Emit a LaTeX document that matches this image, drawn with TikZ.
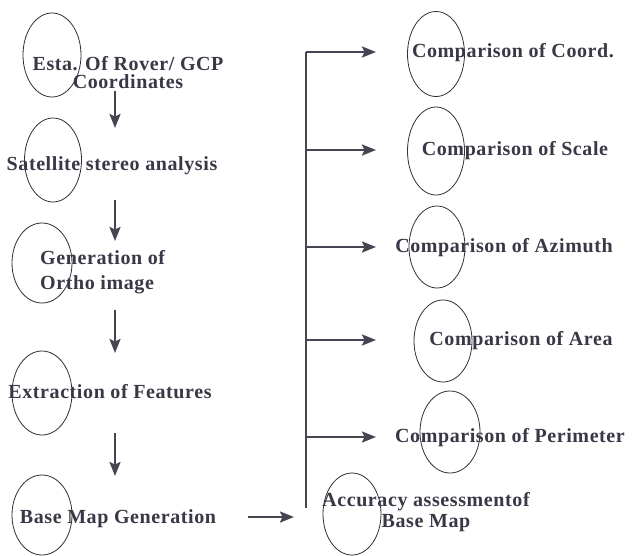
\documentclass[tikz,border=0pt]{standalone}
\usepackage{fontspec}
\setmainfont{Liberation Serif}[LetterSpace=3]
\usetikzlibrary{arrows.meta,shapes.geometric}
\definecolor{txt}{HTML}{383846}
\definecolor{arr}{HTML}{464652}
\definecolor{ell}{HTML}{303038}
\begin{document}
\begin{tikzpicture}[x=1pt,y=-1pt,
  lbl/.style={inner sep=0pt,text=txt,font=\fontsize{20}{18}\selectfont\bfseries},
  oval/.style={draw=ell,line width=0.8pt,ellipse,inner sep=0pt,minimum width=#1},
  arrowline/.style={draw=arr,line width=2.2pt,-{Stealth[length=14pt,width=11pt,inset=2.5pt]}},
  plainline/.style={draw=arr,line width=2.2pt}]
\useasboundingbox[fill=white] (0,0) rectangle (634,555);
% ellipses
\node[oval=58pt,minimum height=84pt] (e1) at (52,55) {};
\node[oval=57pt,minimum height=84pt] (e2) at (53,160) {};
\node[oval=60pt,minimum height=80pt] (e3) at (42,263) {};
\node[oval=60pt,minimum height=84pt] (e4) at (42,393) {};
\node[oval=60pt,minimum height=80pt] (e5) at (42,515) {};
\node[oval=57pt,minimum height=85pt] (r1) at (436,54) {};
\node[oval=57pt,minimum height=88pt] (r2) at (436,151) {};
\node[oval=56pt,minimum height=82pt] (r3) at (437,247) {};
\node[oval=58pt,minimum height=82pt] (r4) at (443,341) {};
\node[oval=60pt,minimum height=82pt] (r5) at (450,432) {};
\node[oval=58pt,minimum height=82pt] (r6) at (352,514) {};
% left texts
\node[lbl,align=center,anchor=base] (t1) at (128,88) {Esta. Of Rover/ GCP\\Coordinates};
\node[lbl,anchor=base] (t2) at (112,170) {Satellite stereo analysis};
\node[lbl,align=left,anchor=base west,font=\fontsize{20}{25}\selectfont\bfseries] (t3) at (40,289) {Generation of\\Ortho image};
\node[lbl,anchor=base] (t4) at (110,398) {Extraction of Features};
\node[lbl,anchor=base] (t5) at (118,523) {Base Map Generation};
% right texts
\node[lbl,anchor=base] (c1) at (513,57) {Comparison of Coord.};
\node[lbl,anchor=base] (c2) at (515,155) {Comparison of Scale};
\node[lbl,anchor=base] (c3) at (504,252) {Comparison of Azimuth};
\node[lbl,anchor=base] (c4) at (521,345) {Comparison of Area};
\node[lbl,anchor=base] (c5) at (510,442) {Comparison of Perimeter};
\node[lbl,align=center,anchor=base,font=\fontsize{20}{21}\selectfont\bfseries] (c6) at (426,527) {Accuracy assessmentof\\Base Map};
% connector end points
\coordinate (a1s) at (115,91);  \coordinate (a1e) at (115,128);
\coordinate (a2s) at (115,200); \coordinate (a2e) at (115,241);
\coordinate (a3s) at (115,310); \coordinate (a3e) at (115,353);
\coordinate (a4s) at (115,433); \coordinate (a4e) at (115,476);
\coordinate (hs) at (248,517);  \coordinate (he) at (294,517);
\coordinate (btop) at (306,52); \coordinate (bbot) at (306,508);
\coordinate (b2) at (306,150);  \coordinate (b3) at (306,247);
\coordinate (b4) at (306,340);  \coordinate (b5) at (306,437);
\coordinate (p1) at (376,52);   \coordinate (p2) at (376,150);
\coordinate (p3) at (376,247);  \coordinate (p4) at (376,340);
\coordinate (p5) at (376,437);
% connectors
\draw[arrowline] (a1s) -- (a1e);
\draw[arrowline] (a2s) -- (a2e);
\draw[arrowline] (a3s) -- (a3e);
\draw[arrowline] (a4s) -- (a4e);
\draw[arrowline] (hs) -- (he);
\draw[plainline] (bbot) -- (btop);
\draw[arrowline] (btop) -- (p1);
\draw[arrowline] (b2) -- (p2);
\draw[arrowline] (b3) -- (p3);
\draw[arrowline] (b4) -- (p4);
\draw[arrowline] (b5) -- (p5);
\end{tikzpicture}
\end{document}
